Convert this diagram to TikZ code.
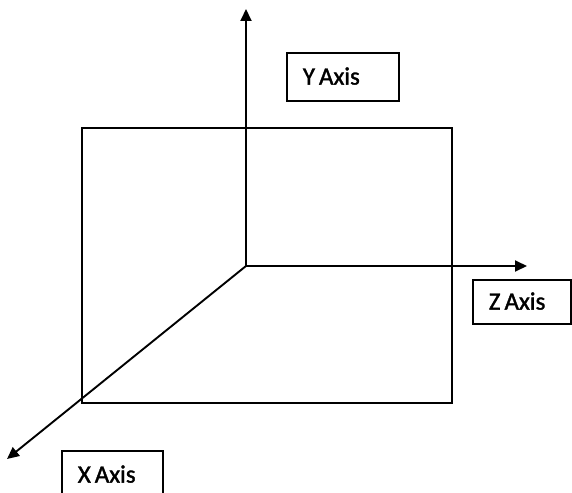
\documentclass[tikz,border=0pt]{standalone}
\usepackage{fontspec}
\setmainfont{Carlito}
\usetikzlibrary{arrows.meta}
\newcommand\axisfont{\fontsize{25}{27}\selectfont\addfontfeature{FakeBold=1.4}}
\newcommand\axname[1]{#1\hspace{0.16em}Axis}
\begin{document}
\begin{tikzpicture}[x=1pt,y=-1pt,
  axis/.style={line width=1.9pt,-{Triangle[length=12pt,width=11pt]}},
  frame/.style={line width=1.9pt},
  label/.style={draw,line width=1.7pt,font=\axisfont,inner xsep=16pt,inner ysep=0pt,
    text height=15.5pt,text depth=0pt,align=left,anchor=north west}]
\useasboundingbox (0,0) rectangle (572,492);
\clip (0,0) rectangle (572,492);
% back plane
\draw[frame] (82,128) rectangle (452,403);
% axes from the origin
\coordinate (o) at (246,266);
\coordinate (ytip) at (246,9);
\coordinate (ztip) at (527,266);
\coordinate (xtip) at (7,459);
\draw[axis] (o) -- (ytip);
\draw[axis] (o) -- (ztip);
\draw[axis] (o) -- (xtip);
% labels
\node[label,text width=80pt,minimum height=48pt] (ylab) at (286,52) {\axname{Y}};
\node[label,text width=66pt,minimum height=44pt] (zlab) at (472,279) {\axname{Z}};
\node[label,text width=69pt,minimum height=48pt] (xlab) at (61,450) {\axname{X}};
\end{tikzpicture}
\end{document}
